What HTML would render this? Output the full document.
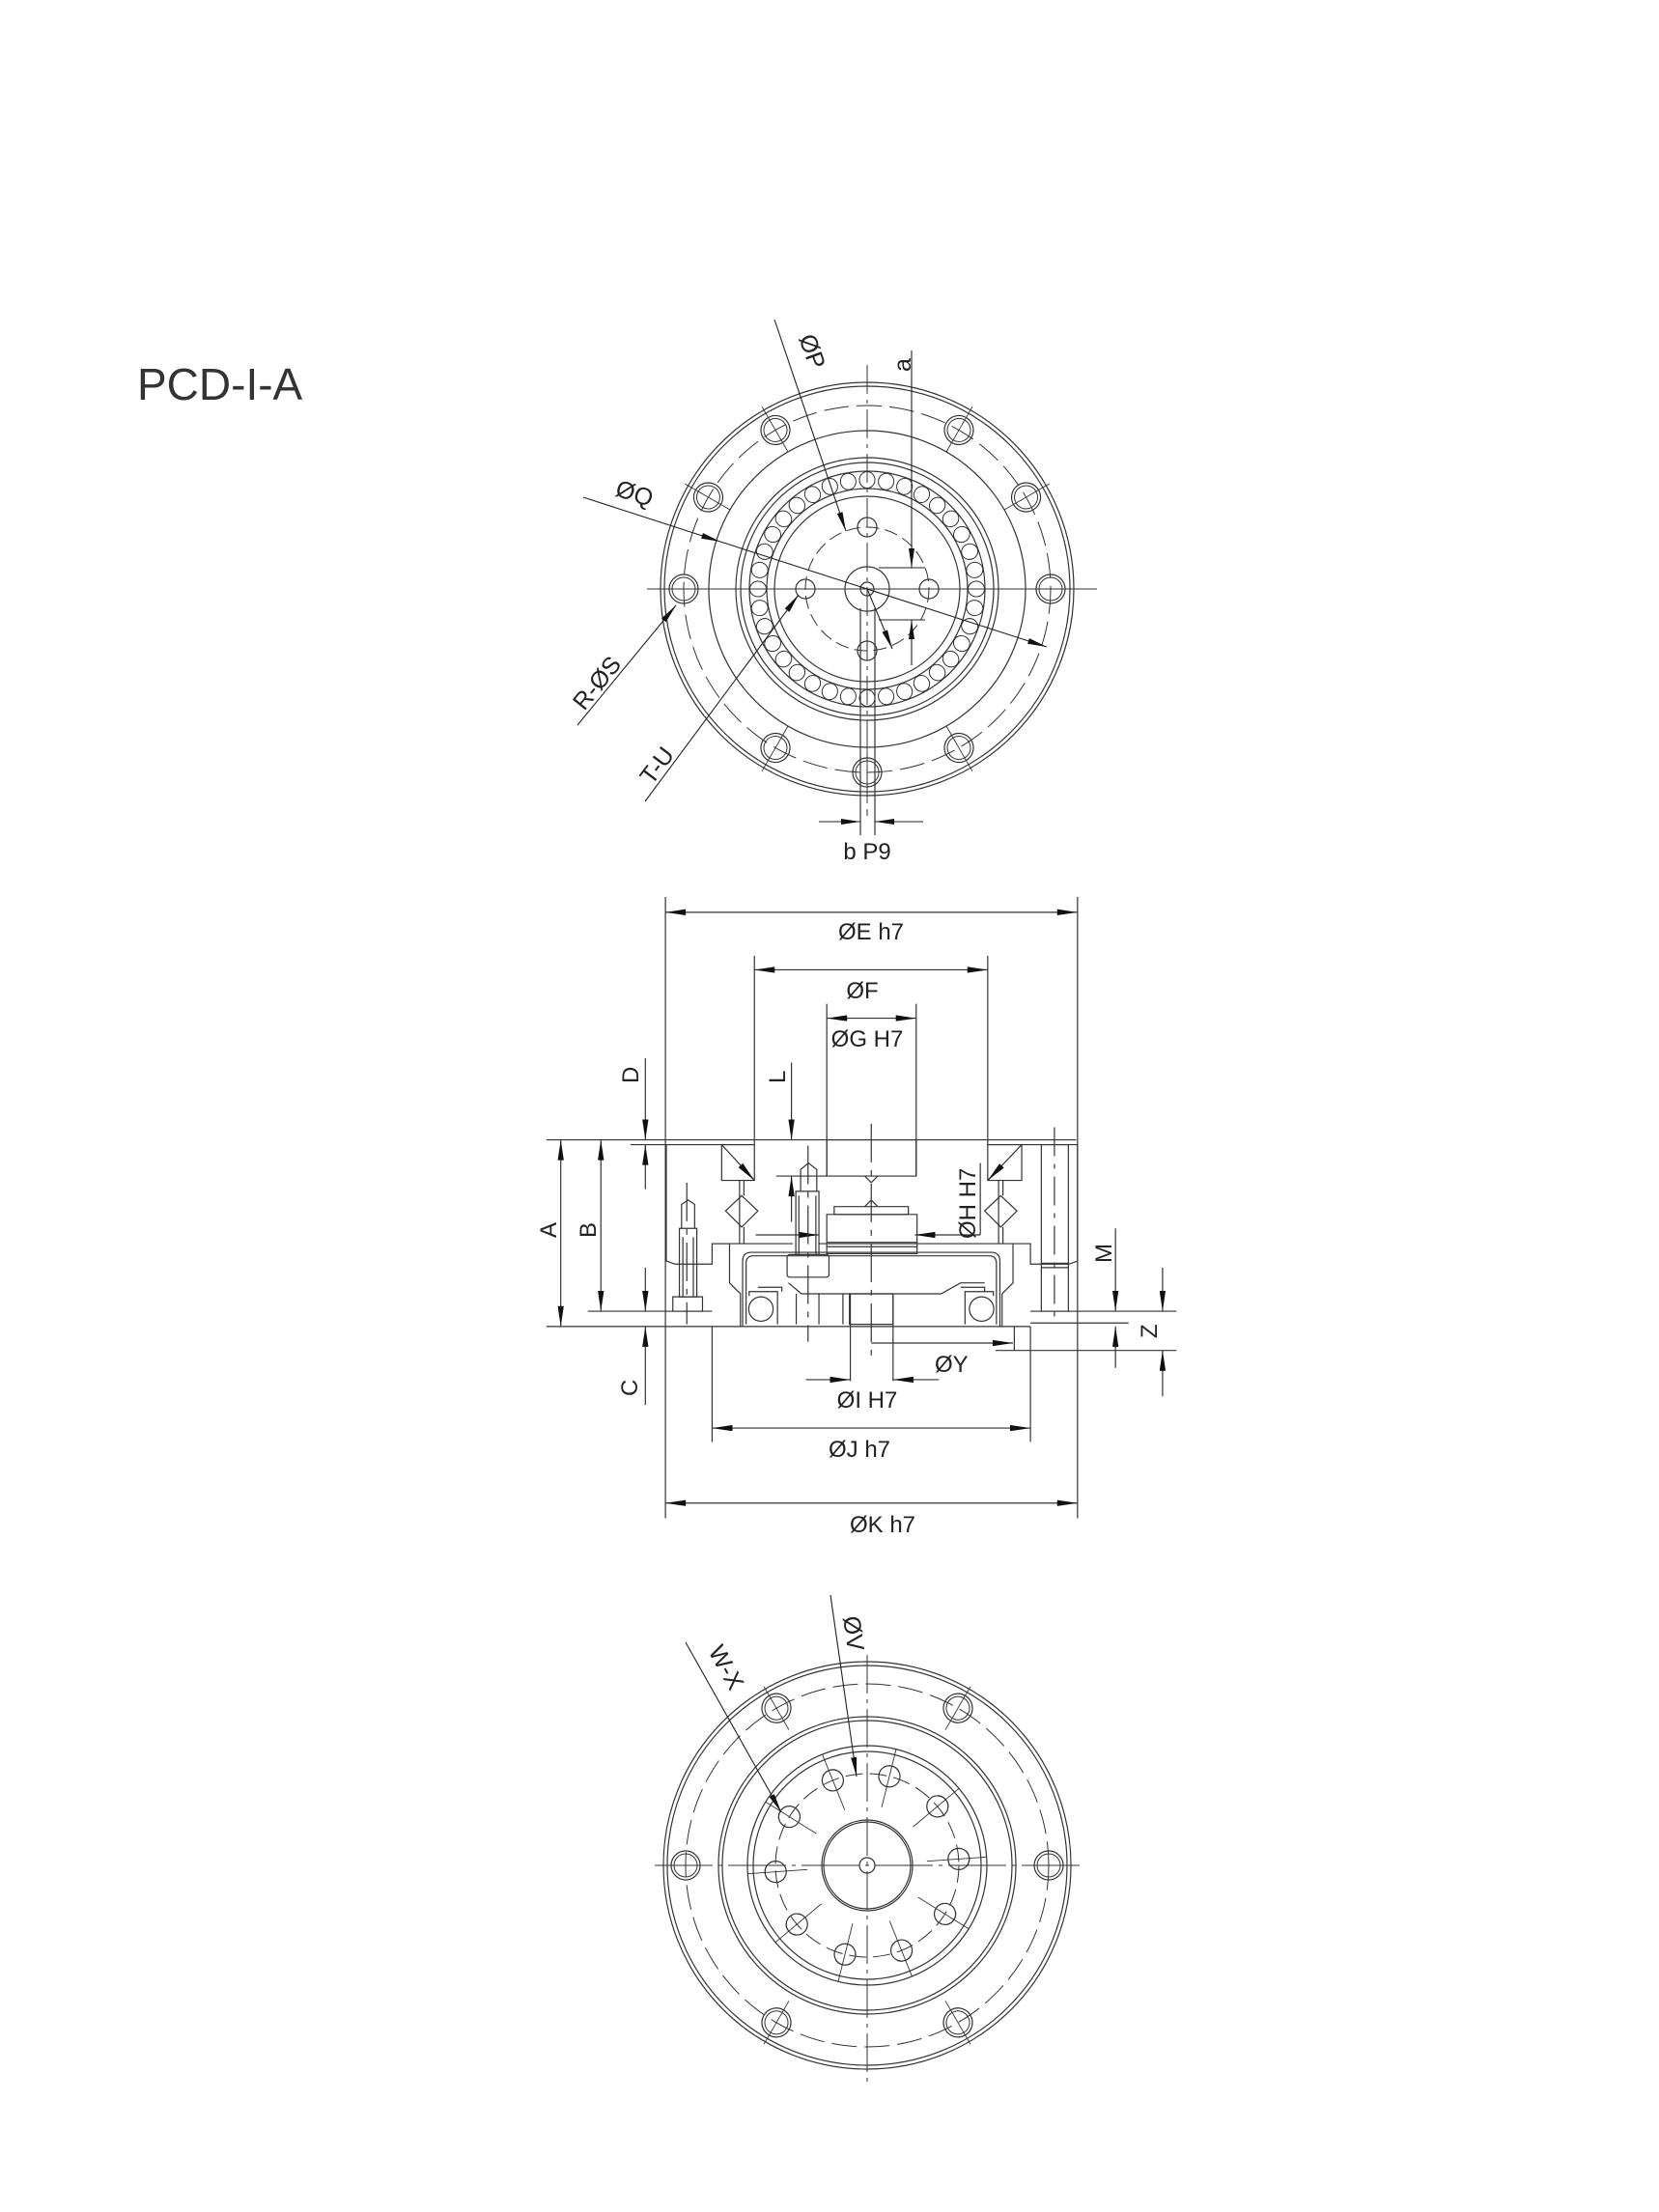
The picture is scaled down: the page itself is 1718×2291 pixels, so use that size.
<!DOCTYPE html>
<html><head><meta charset="utf-8"><style>
html,body{margin:0;padding:0;background:#fff}
svg{display:block}
svg *{vector-effect:non-scaling-stroke}
text{font-family:"Liberation Sans",sans-serif;fill:#222}
</style></head><body>
<svg width="1718" height="2291" viewBox="0 0 1718 2291" xmlns="http://www.w3.org/2000/svg">
<defs>
<marker id="ar" viewBox="0 0 20 6" refX="20" refY="3" markerWidth="20" markerHeight="6" markerUnits="userSpaceOnUse" orient="auto-start-reverse"><path d="M0,0 L20,3 L0,6z" fill="#111"/></marker>
<marker id="az" viewBox="0 0 20 6" refX="20" refY="3" markerWidth="50" markerHeight="14" markerUnits="userSpaceOnUse" orient="auto-start-reverse"><path d="M0,0 L20,3 L0,6z" fill="#111"/></marker>
<g id="roller"><ellipse cx="898" cy="497" rx="8" ry="8.5" fill="none" stroke="#333" stroke-width="1"/></g>
<g id="thole"><circle cx="1088" cy="610" r="15" fill="none" stroke="#333" stroke-width="1.2"/><circle cx="1088" cy="610" r="12" fill="none" stroke="#333" stroke-width="1"/><line x1="1062" y1="610" x2="1116" y2="610" stroke="#333" stroke-width="0.9"/></g>
<g id="bhole"><circle cx="1086" cy="1932" r="15" fill="none" stroke="#333" stroke-width="1.2"/><circle cx="1086" cy="1932" r="12" fill="none" stroke="#333" stroke-width="1"/><line x1="1060" y1="1932" x2="1112" y2="1932" stroke="#333" stroke-width="0.9"/></g>
<g id="ihole"><circle cx="993" cy="1932" r="11" fill="none" stroke="#333" stroke-width="1.2"/><path d="M1001,1924 A12,12 0 0 1 1001,1940" fill="none" stroke="#333" stroke-width="1"/><line x1="960" y1="1932" x2="1022" y2="1932" stroke="#333" stroke-width="0.9"/></g>
</defs>

<text x="142" y="414" font-size="46" style="fill:#333">PCD-I-A</text>

<!-- ================= TOP VIEW ================= -->
<g fill="none" stroke="#333" stroke-width="1.2">
<circle cx="898" cy="610" r="214"/><circle cx="898" cy="610" r="210"/>
<circle cx="898" cy="610" r="190" stroke-dasharray="26 8" stroke-width="1"/>
<circle cx="898" cy="610" r="164"/>
<circle cx="898" cy="610" r="136"/><circle cx="898" cy="610" r="131"/>
<circle cx="898" cy="610" r="122"/><circle cx="898" cy="610" r="104"/>
<circle cx="898" cy="610" r="96"/>
<circle cx="898" cy="610" r="64" stroke-dasharray="14 6" stroke-width="1"/>
<circle cx="898" cy="610" r="23"/><circle cx="898" cy="610" r="7"/>
<line x1="670" y1="610" x2="1136" y2="610" stroke-width="1"/>
<line x1="898" y1="378" x2="898" y2="845" stroke-width="1" stroke-dasharray="30 6 4 6"/>
<line x1="891" y1="630" x2="891" y2="865"/><line x1="906" y1="630" x2="906" y2="865"/>
<circle cx="898" cy="546" r="10"/><circle cx="834" cy="610" r="10"/><circle cx="962" cy="610" r="10"/><circle cx="898" cy="674" r="10"/>
</g>
<g>
<use href="#roller"/><use href="#roller" transform="rotate(10 898 610)"/><use href="#roller" transform="rotate(20 898 610)"/><use href="#roller" transform="rotate(30 898 610)"/><use href="#roller" transform="rotate(40 898 610)"/><use href="#roller" transform="rotate(50 898 610)"/><use href="#roller" transform="rotate(60 898 610)"/><use href="#roller" transform="rotate(70 898 610)"/><use href="#roller" transform="rotate(80 898 610)"/><use href="#roller" transform="rotate(90 898 610)"/><use href="#roller" transform="rotate(100 898 610)"/><use href="#roller" transform="rotate(110 898 610)"/><use href="#roller" transform="rotate(120 898 610)"/><use href="#roller" transform="rotate(130 898 610)"/><use href="#roller" transform="rotate(140 898 610)"/><use href="#roller" transform="rotate(150 898 610)"/><use href="#roller" transform="rotate(160 898 610)"/><use href="#roller" transform="rotate(170 898 610)"/><use href="#roller" transform="rotate(180 898 610)"/><use href="#roller" transform="rotate(190 898 610)"/><use href="#roller" transform="rotate(200 898 610)"/><use href="#roller" transform="rotate(210 898 610)"/><use href="#roller" transform="rotate(220 898 610)"/><use href="#roller" transform="rotate(230 898 610)"/><use href="#roller" transform="rotate(240 898 610)"/><use href="#roller" transform="rotate(250 898 610)"/><use href="#roller" transform="rotate(260 898 610)"/><use href="#roller" transform="rotate(270 898 610)"/><use href="#roller" transform="rotate(280 898 610)"/><use href="#roller" transform="rotate(290 898 610)"/><use href="#roller" transform="rotate(300 898 610)"/><use href="#roller" transform="rotate(310 898 610)"/><use href="#roller" transform="rotate(320 898 610)"/><use href="#roller" transform="rotate(330 898 610)"/><use href="#roller" transform="rotate(340 898 610)"/><use href="#roller" transform="rotate(350 898 610)"/>
</g>
<g>
<use href="#thole"/><use href="#thole" transform="rotate(-30 898 610)"/><use href="#thole" transform="rotate(-60 898 610)"/><use href="#thole" transform="rotate(-120 898 610)"/><use href="#thole" transform="rotate(-150 898 610)"/><use href="#thole" transform="rotate(180 898 610)"/><use href="#thole" transform="rotate(120 898 610)"/><use href="#thole" transform="rotate(90 898 610)"/><use href="#thole" transform="rotate(60 898 610)"/>
</g>
<g fill="none" stroke="#222" stroke-width="1.1">
<line x1="802" y1="331" x2="876" y2="550" marker-end="url(#ar)"/>
<line x1="898" y1="610" x2="924" y2="672" marker-end="url(#ar)"/>
<line x1="944" y1="363" x2="944" y2="588" marker-end="url(#ar)"/>
<line x1="944" y1="689" x2="944" y2="642" marker-end="url(#ar)"/>
<line x1="910" y1="588" x2="958" y2="588"/><line x1="910" y1="642" x2="958" y2="642"/>
<line x1="604" y1="515" x2="746" y2="561" marker-end="url(#ar)"/>
<line x1="746" y1="561" x2="1084" y2="670" marker-end="url(#ar)"/>
<line x1="598" y1="751" x2="700" y2="627" marker-end="url(#ar)"/>
<line x1="668" y1="830" x2="827" y2="616" marker-end="url(#ar)"/>
<line x1="848" y1="851" x2="891" y2="851" marker-end="url(#ar)"/>
<line x1="956" y1="851" x2="906" y2="851" marker-end="url(#ar)"/>
</g>
<g font-size="25">
<text transform="translate(827,350) rotate(70)">ØP</text>
<text transform="translate(943,385) rotate(-90)">a</text>
<text transform="translate(636,513) rotate(18)">ØQ</text>
<text transform="translate(605,737) rotate(-51)">R-ØS</text>
<text transform="translate(675,814) rotate(-53)">T-U</text>
<text x="898" y="890" text-anchor="middle" font-size="24">b P9</text>
</g>

<!-- ================= SIDE VIEW ================= -->
<g transform="translate(550,920) scale(0.4516)" fill="none" stroke="#333" stroke-width="1.2">
<line x1="308" y1="20" x2="308" y2="1445"/><line x1="1253" y1="20" x2="1253" y2="1445"/>
<line x1="512" y1="155" x2="512" y2="588"/><line x1="1047" y1="155" x2="1047" y2="588"/>
<line x1="678" y1="265" x2="678" y2="660"/><line x1="883" y1="265" x2="883" y2="660"/>
<line x1="415" y1="1005" x2="415" y2="1270"/><line x1="1145" y1="1005" x2="1145" y2="1270"/>
<line x1="732" y1="930" x2="732" y2="1130"/><line x1="830" y1="930" x2="830" y2="1130"/>
<line x1="308" y1="55" x2="1253" y2="55" marker-start="url(#az)" marker-end="url(#az)"/>
<line x1="512" y1="187" x2="1047" y2="187" marker-start="url(#az)" marker-end="url(#az)"/>
<line x1="678" y1="298" x2="883" y2="298" marker-start="url(#az)" marker-end="url(#az)"/>
<line x1="415" y1="1238" x2="1145" y2="1238" marker-start="url(#az)" marker-end="url(#az)"/>
<line x1="308" y1="1410" x2="1253" y2="1410" marker-start="url(#az)" marker-end="url(#az)"/>
<line x1="630" y1="1127" x2="732" y2="1127" marker-end="url(#az)"/>
<line x1="935" y1="1127" x2="830" y2="1127" marker-end="url(#az)"/>
<line x1="780" y1="1043" x2="1105" y2="1043" marker-end="url(#az)"/>
<line x1="1108" y1="1005" x2="1108" y2="1060"/>
<line x1="68" y1="577" x2="68" y2="1005" marker-start="url(#az)" marker-end="url(#az)"/>
<line x1="160" y1="577" x2="160" y2="970" marker-start="url(#az)" marker-end="url(#az)"/>
<line x1="262" y1="390" x2="262" y2="577" marker-end="url(#az)"/>
<line x1="262" y1="690" x2="262" y2="588" marker-end="url(#az)"/>
<line x1="262" y1="870" x2="262" y2="970" marker-end="url(#az)"/>
<line x1="262" y1="1185" x2="262" y2="1005" marker-end="url(#az)"/>
<line x1="597" y1="400" x2="597" y2="577" marker-end="url(#az)"/>
<line x1="597" y1="765" x2="597" y2="660" marker-end="url(#az)"/>
<line x1="562" y1="660" x2="678" y2="660"/>
<line x1="1340" y1="780" x2="1340" y2="970" marker-end="url(#az)"/>
<line x1="1340" y1="1100" x2="1340" y2="1005" marker-end="url(#az)"/>
<line x1="1448" y1="870" x2="1448" y2="970" marker-end="url(#az)"/>
<line x1="1448" y1="1165" x2="1448" y2="1060" marker-end="url(#az)"/>
<line x1="1145" y1="970" x2="1480" y2="970"/><line x1="1065" y1="1060" x2="1480" y2="1060"/>
<line x1="1145" y1="997" x2="1370" y2="997"/>
<line x1="1030" y1="630" x2="1030" y2="795"/>
<line x1="1030" y1="795" x2="880" y2="795" marker-end="url(#az)"/>
<line x1="515" y1="795" x2="660" y2="795" marker-end="url(#az)"/>
<line x1="35" y1="577" x2="1250" y2="577"/>
<line x1="228" y1="588" x2="512" y2="588"/><line x1="1047" y1="588" x2="1253" y2="588"/>
<line x1="130" y1="970" x2="415" y2="970"/>
<line x1="35" y1="1005" x2="1145" y2="1005"/>
<path d="M310,588 V855 L330,862 H415 V815 H455 V905 L480,930 V1005"/>
<path d="M1253,588 V855 L1233,862 H1145 V815 H1105 V905 L1080,930 V1005"/>
<path d="M415,815 H600 M660,815 H1105"/>
<path d="M485,1005 V855 Q485,835 505,835 H1055 Q1075,835 1075,855 V1005"/>
<path d="M493,1000 V860 Q493,843 510,843 H1050 Q1067,843 1067,860 V1000"/>
<rect x="437" y="588" width="75" height="82"/><line x1="437" y1="588" x2="512" y2="670" marker-end="url(#az)"/>
<rect x="1047" y="588" width="78" height="82"/><line x1="1125" y1="588" x2="1047" y2="670" marker-end="url(#az)"/>
<path d="M483,705 L520,740 L483,777 L446,740Z"/><path d="M1077,705 L1114,740 L1077,777 L1040,740Z"/>
<line x1="478" y1="670" x2="478" y2="815"/><line x1="488" y1="670" x2="488" y2="705"/><line x1="488" y1="777" x2="488" y2="815"/>
<line x1="1072" y1="670" x2="1072" y2="815"/><line x1="1082" y1="670" x2="1082" y2="705"/><line x1="1082" y1="777" x2="1082" y2="815"/>
<rect x="678" y="577" width="205" height="83"/>
<path d="M765,660 L780,675 L795,660 M765,730 L780,715 L795,730"/>
<rect x="695" y="730" width="170" height="18"/>
<rect x="678" y="748" width="207" height="90"/>
<line x1="678" y1="812" x2="885" y2="812"/><line x1="678" y1="822" x2="885" y2="822"/>
<path d="M345,780 V725 L360,715 L375,725 V780"/><rect x="340" y="780" width="40" height="157"/><rect x="325" y="937" width="68" height="33"/>
<line x1="348" y1="800" x2="348" y2="937"/><line x1="372" y1="800" x2="372" y2="937"/>
<path d="M618,695 V645 L636,630 L655,645 V695"/><rect x="607" y="695" width="53" height="145"/><rect x="587" y="840" width="96" height="52" rx="6"/>
<line x1="614" y1="705" x2="614" y2="840"/><line x1="653" y1="705" x2="653" y2="840"/>
<path d="M590,905 L620,930 H940 L985,905 H1040"/>
<rect x="730" y="930" width="100" height="70"/>
<line x1="608" y1="930" x2="608" y2="1000"/><line x1="660" y1="930" x2="660" y2="1000"/><line x1="715" y1="930" x2="715" y2="1000"/>
<circle cx="527" cy="965" r="28"/><circle cx="1033" cy="965" r="28"/>
<path d="M500,935 V925 H565 V1000 M1060,935 V925 H995 V1000"/>
<path d="M520,915 H575 V925 M985,915 H1040 V925"/>
<rect x="1170" y="588" width="62" height="382"/>
<line x1="1170" y1="860" x2="1232" y2="860"/><line x1="1170" y1="870" x2="1232" y2="870"/>
<line x1="1200" y1="548" x2="1200" y2="1000" stroke-dasharray="30 8 5 8"/>
<line x1="780" y1="540" x2="780" y2="1080" stroke-dasharray="40 8 6 8"/>
<line x1="635" y1="590" x2="635" y2="1040" stroke-dasharray="40 8 6 8"/>
<line x1="357" y1="675" x2="357" y2="1000" stroke-dasharray="40 8 6 8"/>
</g>
<g font-size="24">
<text x="902" y="973" text-anchor="middle">ØE h7</text>
<text x="893" y="1034" text-anchor="middle">ØF</text>
<text x="898" y="1084" text-anchor="middle">ØG H7</text>
<text x="898" y="1458" text-anchor="middle">ØI H7</text>
<text x="890" y="1509" text-anchor="middle">ØJ h7</text>
<text x="914" y="1587" text-anchor="middle">ØK h7</text>
<text x="968" y="1421">ØY</text>
<text transform="translate(661,1122) rotate(-90)">D</text>
<text transform="translate(813,1122) rotate(-90)">L</text>
<text transform="translate(576,1282) rotate(-90)">A</text>
<text transform="translate(617,1282) rotate(-90)">B</text>
<text transform="translate(660,1446) rotate(-90)">C</text>
<text transform="translate(1151,1308) rotate(-90)">M</text>
<text transform="translate(1198,1386) rotate(-90)">Z</text>
<text transform="translate(1010,1283) rotate(-90)">ØH H7</text>
</g>

<!-- ================= BOTTOM VIEW ================= -->
<g fill="none" stroke="#333" stroke-width="1.2">
<circle cx="898" cy="1932" r="211"/><circle cx="898" cy="1932" r="207"/>
<circle cx="898" cy="1932" r="188" stroke-dasharray="26 8" stroke-width="1"/>
<circle cx="898" cy="1932" r="154"/><circle cx="898" cy="1932" r="150"/>
<circle cx="898" cy="1932" r="124"/><circle cx="898" cy="1932" r="118"/>
<circle cx="898" cy="1932" r="95" stroke-dasharray="18 7" stroke-width="1"/>
<circle cx="898" cy="1932" r="47"/><circle cx="898" cy="1932" r="45"/>
<circle cx="898" cy="1932" r="8"/>
<line x1="678" y1="1932" x2="1123" y2="1932" stroke-width="1" stroke-dasharray="60 6 4 6"/>
<line x1="898" y1="1714" x2="898" y2="2157" stroke-width="1" stroke-dasharray="40 6 4 6"/>
</g>
<g>
<use href="#bhole"/><use href="#bhole" transform="rotate(-60 898 1932)"/><use href="#bhole" transform="rotate(-120 898 1932)"/><use href="#bhole" transform="rotate(180 898 1932)"/><use href="#bhole" transform="rotate(120 898 1932)"/><use href="#bhole" transform="rotate(60 898 1932)"/>
<use href="#ihole" transform="rotate(-4 898 1932)"/><use href="#ihole" transform="rotate(-40 898 1932)"/><use href="#ihole" transform="rotate(-76 898 1932)"/><use href="#ihole" transform="rotate(-112 898 1932)"/><use href="#ihole" transform="rotate(-148 898 1932)"/><use href="#ihole" transform="rotate(-184 898 1932)"/><use href="#ihole" transform="rotate(-220 898 1932)"/><use href="#ihole" transform="rotate(-256 898 1932)"/><use href="#ihole" transform="rotate(-292 898 1932)"/><use href="#ihole" transform="rotate(-328 898 1932)"/>
</g>
<g fill="none" stroke="#222" stroke-width="1.1">
<line x1="860" y1="1652" x2="887" y2="1840" marker-end="url(#ar)"/>
<line x1="710" y1="1701" x2="809" y2="1877" marker-end="url(#ar)"/>
</g>
<g font-size="25">
<text transform="translate(873,1675) rotate(82)">ØV</text>
<text transform="translate(733,1710) rotate(61)">W-X</text>
</g>
</svg>
</body></html>
